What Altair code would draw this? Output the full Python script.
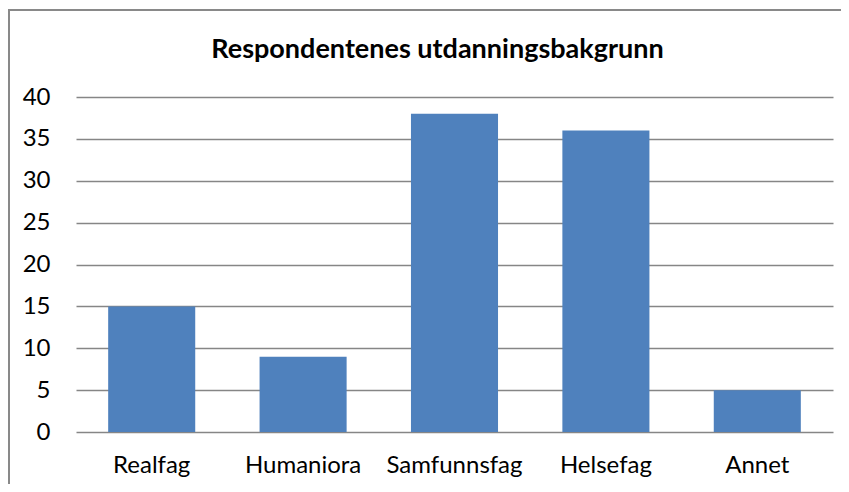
import altair as alt
import pandas as pd

categories = ["Realfag", "Humaniora", "Samfunnsfag", "Helsefag", "Annet"]
values = [15, 9, 38, 36, 5]
title_text = ["Respondentenes utdanningsbakgrunn"]

df = pd.DataFrame({"kategori": categories, "antall": values})
tdf = pd.DataFrame({"t": title_text})

FONT = "Lato"

bars = alt.Chart(df).mark_bar(color="#4F81BD").encode(
    x=alt.X("kategori:N", sort=categories, title=None,
            scale=alt.Scale(paddingInner=0.425, paddingOuter=0.2125),
            axis=alt.Axis(labelAngle=0, labelFontSize=24, labelFont=FONT,
                          labelColor="#000000", labelPadding=21, ticks=False,
                          domain=False, grid=False)),
    y=alt.Y("antall:Q", title=None,
            scale=alt.Scale(domain=[0, 40]),
            axis=alt.Axis(values=[0, 5, 10, 15, 20, 25, 30, 35, 40],
                          labelFontSize=24, labelFont=FONT, labelColor="#000000",
                          labelPadding=26, ticks=False, domain=False,
                          grid=True, gridColor="#868686", gridWidth=1.3)),
)

frame_top = alt.Chart(tdf).mark_rule(stroke="#898989", strokeWidth=2, clip=False).encode(
    x=alt.value(-68), x2=alt.value(765), y=alt.value(-87)
)
frame_left = alt.Chart(tdf).mark_rule(stroke="#898989", strokeWidth=2, clip=False).encode(
    x=alt.value(-67), y=alt.value(-88), y2=alt.value(387)
)

title = alt.Chart(tdf).mark_text(font=FONT, fontSize=27, fontWeight="bold",
                                 color="#000000", baseline="alphabetic",
                                 align="center", clip=False).encode(
    text="t:N", x=alt.value(361.5), y=alt.value(-39)
)

chart = alt.layer(frame_top, frame_left, bars, title).properties(
    width=757, height=335,
    autosize=alt.AutoSizeParams(type="none"),
    padding={"left": 68, "top": 89, "right": 8, "bottom": 52},
).configure_view(stroke=None)

chart.save("out.html", embed_options={"renderer": "svg", "actions": False})
